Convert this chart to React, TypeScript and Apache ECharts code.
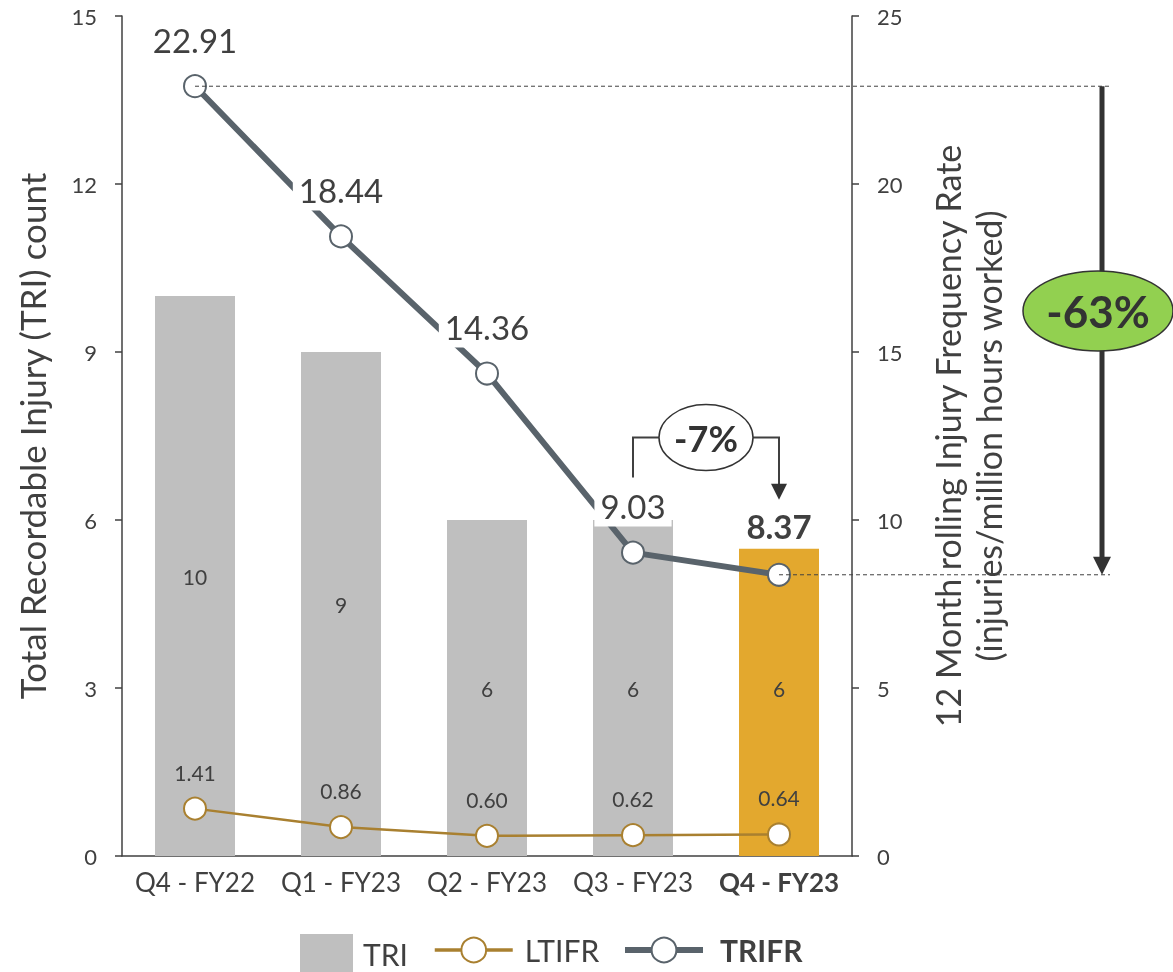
import React, { useEffect, useRef } from 'react';
import * as echarts from 'echarts';

const categories = ['Q4 - FY22', 'Q1 - FY23', 'Q2 - FY23', 'Q3 - FY23', 'Q4 - FY23'];
const triCounts = [10, 9, 6, 6, 6];
const ltifrValues = [1.41, 0.86, 0.6, 0.62, 0.64];
const trifrValues = [22.91, 18.44, 14.36, 9.03, 8.37];
const changeShort = '-7%';
const changeLong = '-63%';

const FONT = 'Lato, "Open Sans", sans-serif';
const TXT = '#404040';
const GRAY_BAR = '#bfbfbf';
const GOLD_BAR = '#e3a82e';
const TRIFR_COLOR = '#59636b';
const LTIFR_COLOR = '#a98030';

const legendText = { fontSize: 30, color: TXT, fontFamily: FONT };

export default function App() {
  const ref = useRef<HTMLDivElement>(null);
  useEffect(() => {
    const chart = echarts.init(ref.current!, null, { renderer: 'svg' });
    const last = categories.length - 1;
    chart.setOption({
      animation: false,
      textStyle: { fontFamily: FONT },
      grid: { left: 122, right: 321, top: 16, bottom: 116, containLabel: false },
      legend: [
        {
          data: [{ name: 'TRI', icon: 'rect' }],
          left: 300,
          top: 934,
          padding: 0,
          itemWidth: 53,
          itemHeight: 40,
          textStyle: { ...legendText, padding: [0, 0, 0, 5] },
        },
        {
          data: [{ name: 'LTIFR' }],
          left: 433,
          top: 935,
          padding: 0,
          itemWidth: 78,
          itemHeight: 31,
          lineStyle: { width: 3.5 },
          itemStyle: { borderWidth: 2 },
          textStyle: { ...legendText, padding: [0, 0, 0, 7] },
        },
        {
          data: [{ name: 'TRIFR', textStyle: { fontWeight: 'bold' } }],
          left: 622,
          top: 935,
          padding: 0,
          itemWidth: 78,
          itemHeight: 31,
          lineStyle: { width: 6 },
          itemStyle: { borderWidth: 2 },
          textStyle: { ...legendText, padding: [0, 0, 0, 12] },
        },
      ],
      xAxis: {
        type: 'category',
        data: categories,
        axisLine: { lineStyle: { color: TXT, width: 1.5 } },
        axisTick: { show: false },
        axisLabel: {
          interval: 0,
          fontSize: 26,
          color: TXT,
          margin: 13,
          fontFamily: FONT,
          formatter: (v: string, i: number) => (i === last ? `{b|${v}}` : v),
          rich: { b: { fontWeight: 'bold', fontSize: 26, color: TXT, fontFamily: FONT } },
        },
      },
      yAxis: [
        {
          type: 'value',
          position: 'left',
          min: 0,
          max: 15,
          interval: 3,
          name: 'Total Recordable Injury (TRI) count',
          nameLocation: 'middle',
          nameGap: 73,
          nameTextStyle: { fontSize: 35, color: TXT, fontFamily: FONT },
          axisLine: { show: true, lineStyle: { color: TXT, width: 1.5 } },
          axisTick: { show: true, length: 7, lineStyle: { color: TXT, width: 1.5 } },
          axisLabel: { fontSize: 22, color: TXT, margin: 25, fontFamily: FONT },
          splitLine: { show: false },
        },
        {
          type: 'value',
          position: 'right',
          min: 0,
          max: 25,
          interval: 5,
          name: '12 Month rolling Injury Frequency Rate\n(injuries/million hours worked)',
          nameLocation: 'middle',
          nameRotate: 90,
          nameGap: 75,
          nameTextStyle: { fontSize: 34, color: TXT, lineHeight: 41, fontFamily: FONT },
          axisLine: { show: true, lineStyle: { color: TXT, width: 1.5 } },
          axisTick: { show: true, length: 7, lineStyle: { color: TXT, width: 1.5 } },
          axisLabel: { fontSize: 22, color: TXT, margin: 25, fontFamily: FONT },
          splitLine: { show: false },
        },
      ],
      series: [
        {
          name: 'TRI',
          type: 'bar',
          yAxisIndex: 0,
          barWidth: 80,
          itemStyle: { color: GRAY_BAR },
          data: triCounts.map((v, i) => (i === last ? { value: v, itemStyle: { color: GOLD_BAR } } : v)),
          label: { show: true, position: 'inside', fontSize: 21, color: TXT, fontFamily: FONT },
        },
        {
          name: 'LTIFR',
          type: 'line',
          yAxisIndex: 1,
          symbol: 'circle',
          symbolSize: 22,
          lineStyle: { color: LTIFR_COLOR, width: 2.5 },
          itemStyle: { color: '#fff', borderColor: LTIFR_COLOR, borderWidth: 2 },
          data: ltifrValues,
          label: {
            show: true,
            position: 'top',
            distance: 14,
            fontSize: 21,
            color: TXT,
            fontFamily: FONT,
            formatter: (p: any) => Number(p.value).toFixed(2),
          },
        },
        {
          name: 'TRIFR',
          type: 'line',
          yAxisIndex: 1,
          symbol: 'circle',
          symbolSize: 22,
          lineStyle: { color: TRIFR_COLOR, width: 6 },
          itemStyle: { color: '#fff', borderColor: TRIFR_COLOR, borderWidth: 2 },
          data: trifrValues.map((v, i) =>
            i === last ? { value: v, label: { fontWeight: 'bold', padding: [4, 10, 6, 10] } } : v
          ),
          label: {
            show: true,
            position: 'top',
            distance: 14,
            fontSize: 33,
            color: TXT,
            fontFamily: FONT,
            backgroundColor: '#fff',
            padding: [2, 6, 4, 6],
            formatter: (p: any) => Number(p.value).toFixed(2),
          },
        },
      ],
    });

    const toPx = (i: number, v: number) =>
      chart.convertToPixel({ xAxisIndex: 0, yAxisIndex: 1 }, [categories[i], v]) as number[];
    const pFirst = toPx(0, trifrValues[0]);
    const pPrev = toPx(last - 1, trifrValues[last - 1]);
    const pLast = toPx(last, trifrValues[last]);
    const arrowX = 1102;
    const dashEnd = 1110;
    const ellY = pFirst[1] + 0.46 * (pLast[1] - pFirst[1]);
    const brY = pPrev[1] - 115;
    const brStartY = pPrev[1] - 75;
    const brTipY = pLast[1] - 75;
    const brMidX = (pPrev[0] + pLast[0]) / 2;
    const dark = '#333333';

    chart.setOption({
      graphic: [
        {
          type: 'line',
          z: 10,
          shape: { x1: pFirst[0], y1: pFirst[1], x2: dashEnd, y2: pFirst[1] },
          style: { stroke: TXT, lineWidth: 1, lineDash: [4, 3] },
        },
        {
          type: 'line',
          z: 10,
          shape: { x1: pLast[0], y1: pLast[1], x2: dashEnd, y2: pLast[1] },
          style: { stroke: TXT, lineWidth: 1, lineDash: [4, 3] },
        },
        {
          type: 'line',
          z: 10,
          shape: { x1: arrowX, y1: pFirst[1], x2: arrowX, y2: pLast[1] - 16 },
          style: { stroke: dark, lineWidth: 5 },
        },
        {
          type: 'polygon',
          z: 10,
          shape: { points: [[arrowX - 9, pLast[1] - 18], [arrowX + 9, pLast[1] - 18], [arrowX, pLast[1]]] },
          style: { fill: dark },
        },
        {
          type: 'ellipse',
          z: 11,
          shape: { cx: 1098, cy: ellY, rx: 75, ry: 40 },
          style: { fill: '#92d050', stroke: dark, lineWidth: 1.5 },
        },
        {
          type: 'text',
          z: 12,
          x: 1098,
          y: ellY,
          style: {
            text: changeLong,
            fill: dark,
            font: `bold 44px ${FONT}`,
            align: 'center',
            verticalAlign: 'middle',
          },
        },
        {
          type: 'polyline',
          z: 10,
          shape: { points: [[pPrev[0], brStartY], [pPrev[0], brY], [brMidX, brY]] },
          style: { stroke: TXT, lineWidth: 2, fill: 'none' },
        },
        {
          type: 'polyline',
          z: 10,
          shape: { points: [[brMidX, brY], [pLast[0], brY], [pLast[0], brTipY - 14]] },
          style: { stroke: TXT, lineWidth: 2, fill: 'none' },
        },
        {
          type: 'polygon',
          z: 10,
          shape: { points: [[pLast[0] - 8, brTipY - 16], [pLast[0] + 8, brTipY - 16], [pLast[0], brTipY]] },
          style: { fill: dark },
        },
        {
          type: 'ellipse',
          z: 11,
          shape: { cx: brMidX, cy: brY, rx: 47, ry: 33 },
          style: { fill: '#fff', stroke: dark, lineWidth: 1.5 },
        },
        {
          type: 'text',
          z: 12,
          x: brMidX,
          y: brY,
          style: {
            text: changeShort,
            fill: dark,
            font: `bold 36px ${FONT}`,
            align: 'center',
            verticalAlign: 'middle',
          },
        },
      ],
    });
    return () => chart.dispose();
  }, []);
  return <div ref={ref} style={{ position: 'fixed', left: 0, top: 0, width: 1173, height: 972 }} />;
}
